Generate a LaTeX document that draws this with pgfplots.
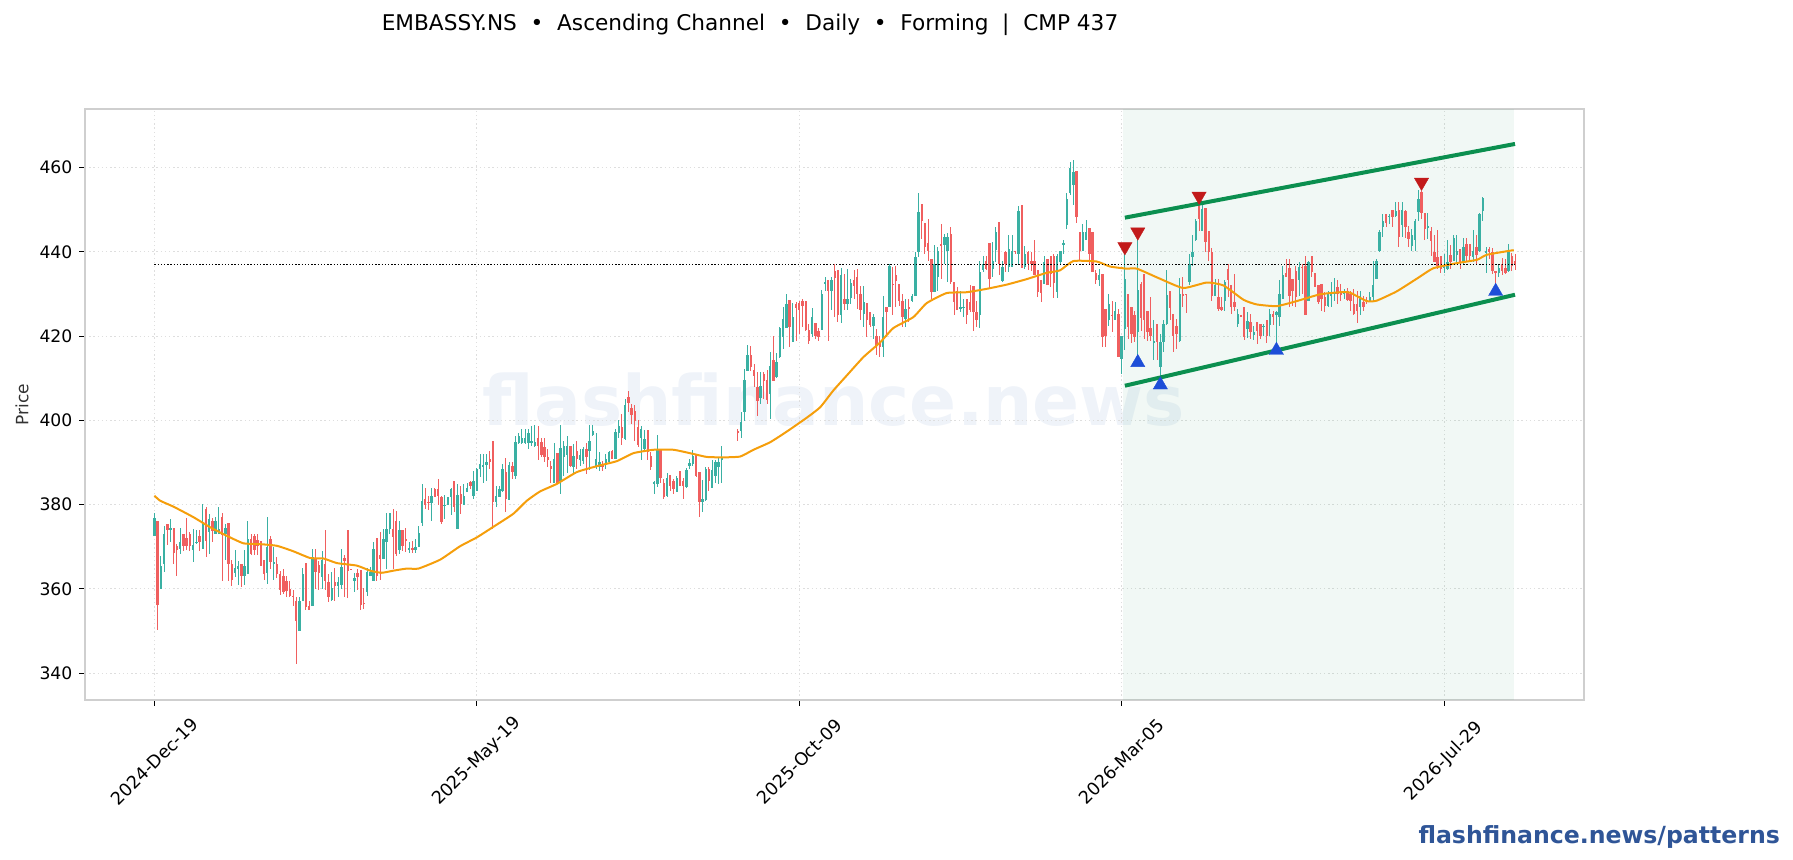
\documentclass[border=0pt]{standalone}
\usepackage{pgfplots}
\usepackage{pgfplotstable}
\usepackage{fontspec}
\setmainfont{DejaVu Sans}
\pgfplotsset{compat=1.18}
\definecolor{upc}{HTML}{3AB0A3}
\definecolor{dnc}{HTML}{F05F5F}
\definecolor{chan}{HTML}{0B8F4F}
\definecolor{ema}{HTML}{F59E0B}
\definecolor{frame}{HTML}{CFCFCF}
\definecolor{gridc}{HTML}{DEDEDE}
\definecolor{wm}{HTML}{EFF3F9}
\definecolor{brand}{HTML}{2F5597}
\definecolor{redm}{HTML}{C21A1A}
\definecolor{bluem}{HTML}{1D4ED8}
\pgfplotstableread{
x l bl bh h
0 372.5 372.5 376.8 378
2 360 360 365.4 367.8
3 364 366 373 374.8
5 371 374 374.4 376.5
8 368.3 369.5 371.2 374.5
12 366.3 369.1 370.5 374.2
13 370.6 370.8 371.2 374
15 369.5 369.5 375.8 380.1
17 368.3 373.4 376.6 377.8
19 372.9 372.9 376.2 377
20 373 373 374.2 379.4
22 366.8 373 374.4 375.4
25 362.7 363.8 364.9 369.1
26 361 364.7 365.5 366.7
28 361 363.1 365.5 369.1
29 363.4 363.4 371.8 376
35 361.1 363.7 369.9 377
37 362.2 366 366.4 369.9
45 350 350 357.2 358
46 357 357 363.4 364.9
49 356 356 367.5 369.5
52 360 362.7 366.8 368.9
55 357 357.4 360.2 363.9
57 358 360.7 361.5 362.7
58 360 361 365.1 369.5
62 359.2 361.9 362.6 363.7
66 358.4 359.2 363.9 364.9
67 363 363.1 363.9 365.1
68 361.9 361.9 369.5 371.1
71 367 367 371.8 374.2
72 364.7 371 374.2 378
73 373 374.3 378.1 378.1
76 368.3 369.3 374 376.2
79 368.4 369.1 369.8 371
81 368.4 369.1 370 371.8
82 369.9 369.9 373.3 374.9
83 374.9 375.7 380.9 384.9
86 376 380.3 382.1 384
90 376.6 379.6 380 382.3
91 379.8 379.8 381.9 381.9
92 377.4 381.9 383.7 384
94 374.1 374.1 382.3 384.9
96 380 380 382.1 384.9
97 382.9 382.9 384 385.1
99 381.3 382.1 385.5 387.9
100 383.2 383.2 388.5 388.7
101 386.5 388.5 389.7 392
102 385.1 388.8 389.4 392
103 385.7 389.3 390 392
106 379.4 380.5 382.1 384.3
107 381.7 381.9 383.7 384.5
108 382.9 383.3 388.5 389.7
110 381.1 381.1 389.3 390
112 386 386.8 394.9 396.3
113 394.3 394.7 396.3 396.9
114 394.3 394.7 395.9 397.9
115 394.3 394.7 395.9 397.9
116 393.3 394.7 397 397.9
117 393.9 394.7 395.1 398.7
118 393.6 393.9 394.9 398.9
124 385 385 390.8 394.7
126 382.5 385.6 393.5 398.9
127 386.8 391.2 393.8 395.1
128 387.6 391.8 393.9 396.3
130 387.6 389 391.6 394.3
132 389.2 390.5 391.8 393.2
133 389.6 390.4 393.2 393.6
135 388.2 392.6 395.1 398.9
136 396.3 396.5 397.5 398.9
137 388.4 389.2 390.8 397.1
138 388 389 390.1 392.4
140 388.4 389.6 390.8 392
141 389.6 390 392.4 392.8
143 390.8 390.8 397.3 397.9
144 395.9 397.1 398.7 400
146 395.4 395.5 403.7 405
151 390.5 395.9 397.9 398.7
152 392.6 393.2 395.5 397.7
155 382.5 385 385.3 385.6
156 384.2 384.8 393.2 396.5
159 381.8 382.1 386.4 387.6
162 382.9 382.9 386.4 386.8
165 384 384.2 388.2 388.6
166 388.4 389.2 389.8 390.8
167 389.2 389.6 391.6 393
170 378.3 380.6 381.3 385.8
171 380.9 381 388.4 388.8
173 383.9 384 388.2 390.5
174 385 386.8 390 390.5
175 384.8 388.8 390.1 391.2
176 385.2 390.8 391 393.8
182 395.9 397.4 399.5 401.9
183 399.9 401.9 409.6 412.2
184 411.6 411.6 415.5 417.9
188 403.8 405.4 408.2 411.4
191 400.3 406.2 413 416.1
193 410 410.3 413.9 415.9
194 414.8 415 421.9 422.1
195 417 419.7 424.1 426.8
196 421.9 421.9 427.5 430
198 418.5 418.5 424.6 427.8
204 419.7 420.5 424.5 426.6
207 421.5 421.5 429.9 431
208 430.8 432.4 432.8 434
210 426.1 430.8 433.3 434
213 423.1 425.1 434.6 436.2
215 426.1 427.5 428.8 436
216 427.6 429 432.5 433.6
220 422.1 425.3 428 431.8
223 419.3 422.5 424.5 425.3
226 415.1 417.3 424.5 429.4
228 426.8 427 436.7 437
233 422.1 424.1 426.5 428.8
235 428 428.3 429.6 430
236 429.5 429.6 438.7 439.9
237 438.7 439.9 449.4 453.9
242 430.4 430.4 437.1 441.7
243 430.8 434 440.1 441.1
245 437.1 441.5 443.6 444.3
246 432.8 440.3 443.6 444.4
250 425.7 426.5 426.9 430.8
251 424.5 426.8 427 428.8
256 421.9 424.9 435.2 437.9
257 435.2 435.6 437.1 439.1
260 434 436 437.9 442.3
261 437.5 440.5 444.7 445.9
263 432.9 433 436.5 437.9
265 435.2 436.4 440.7 444
266 436.4 436.4 440.3 444
268 437.1 439.5 449.7 450.8
270 436 436.4 439.4 441.3
276 432.4 432.4 437.5 439
280 429.1 430.4 439.1 439.5
281 437.1 437.5 440.1 440.3
282 439.5 441.6 442 442.8
283 445.5 446.3 452.6 453.9
284 453.4 453.9 459.9 461.3
285 451 455.8 458.9 461.9
288 440.3 440.3 444.8 446.6
289 442.7 442.7 444.8 447.6
293 431.8 433.2 434.5 436
296 422.5 423.7 427.6 430
298 423.7 423.7 425.9 428
300 411 414.6 419.9 419.9
301 416.6 421.6 433.6 439.9
305 415 420.9 431 443.1
310 414.2 418.3 418.9 423.8
312 410.2 412.6 418.5 420.5
313 416.1 418.5 422.9 423.8
314 422.6 422.9 429.8 435.7
318 418.7 418.8 430 433.8
321 432 432.8 437.1 439.5
322 436.7 438.7 439.9 444
323 442.5 442.7 447.3 447.8
325 445 445 450.2 451.4
329 429.5 429.6 432.1 433.6
332 426 428.3 432.9 433.2
336 422.1 422.9 425.3 426.4
339 419.6 421.7 423.5 425.7
341 419.1 420.3 420.9 422.5
344 420.1 422.1 422.5 422.9
346 420.1 422.7 425.3 426.4
348 416.5 424.9 425.7 426
349 422.5 424.6 430 433.2
350 428.8 428.8 434.4 436.7
355 429.6 433.2 436.5 437.5
358 428.4 428.4 437.5 437.9
364 427 427.2 430 430.8
365 426.8 429.6 430.2 432.8
366 428.4 430 430.4 433.8
369 428.8 430 430.4 431.2
374 424.9 426.8 429.6 430.8
377 428 428.4 429.2 430.4
378 428.4 429.2 432.1 437.9
379 433.6 433.6 437.9 438.3
380 439.9 440.1 444.7 445.1
381 443.6 446 447.4 449
383 446.5 448.2 448.6 449
385 448.2 448.6 449.8 451.8
387 443.5 446.4 450 451.8
390 440.1 441.3 443.9 445.4
391 440.3 442.7 447.3 447.8
392 447.4 449.4 452.6 454.6
395 443.1 445.8 446.2 449.2
400 434.9 436.2 436.7 439.5
401 435.7 435.9 437.5 442.8
403 437.7 437.9 443.2 443.9
404 437.1 439.3 440.3 444
406 437.1 437.5 441.1 443.2
409 437.5 438.7 440.1 445.2
411 439.9 440.1 449 449.2
412 447.3 449.8 452.7 453.1
413 434.9 439.8 440.3 441.1
417 434 434.9 436.1 437.1
420 435.1 435.5 439.9 441.9
}\upT
\pgfplotstableread{
x l bl bh h
1 350.2 356.2 376.1 376.1
4 370.5 373.9 375.4 375.4
6 366 368.5 374.4 374.4
7 363 369.3 370.1 370.7
9 369 370.2 373 373
10 369.3 370.2 372.1 376.8
11 368.9 370.2 372.9 373.5
14 368.9 371.2 372.6 374
16 367.5 371.4 379 379.3
18 371 373.8 376.2 376.8
21 361.9 372.8 377 377.9
23 361.9 365.9 375.7 375.7
24 360.7 362.1 366 366.8
27 360.5 363.1 365.9 365.9
30 368.1 368.3 371.8 373
31 368.1 369.1 372.6 373
32 368.1 370.2 371.6 372.9
33 365.3 365.3 371.4 371.4
34 362.1 363.4 366.9 366.9
36 364.7 366.3 371.8 372.6
38 362.5 363.5 365.9 367.5
39 358.6 359.8 363.5 364.3
40 358.8 359.2 363.1 364.7
41 358 359.4 361.9 363.1
42 358 358.4 359.9 361.9
43 355.8 358 358.4 359.6
44 342.1 352.4 357.2 358
47 355 355.6 366.1 366.1
48 355 355 355.8 357.2
50 360 364.1 367.1 369.5
51 359.8 363.7 365.7 366.7
53 359.7 361.9 365.9 374
54 356.8 358.1 361.7 363.5
56 357.2 360.7 361.5 364.9
59 358 366.7 367.2 368.1
60 357.8 364.3 374 374
61 364.6 364.6 364.7 364.7
63 359.6 362.9 363.8 364.7
64 355 356.1 364.5 364.5
65 355.2 356.4 356.7 360.3
69 361.9 363.1 372 372
70 362.1 367.1 368.1 373.4
74 364.7 372.2 374.2 379
75 367.9 368.3 376.2 378.4
77 369 370.1 374 374
78 368.7 371.4 371.8 374.4
80 368.4 369.2 369.8 371.4
84 379 380 381.2 384
85 378.7 380.3 380.7 382.1
87 381.7 381.9 383.8 384
88 379.8 382.1 383.7 386.1
89 375.4 375.8 381.9 382.1
93 378.2 379.5 385.5 385.5
95 377.8 380.1 382.5 384.5
98 383.7 384.3 385.4 385.7
104 388.5 390.2 390.8 392.7
105 374.2 380.5 395.2 395.2
109 378.2 381.2 387.8 391.1
111 386 387.8 389.2 390
119 390.5 393.8 395.8 398.7
120 391.2 391.8 394.9 395.9
121 390.2 391.4 393.7 395.8
122 389 390.5 391.2 393.2
123 385 388.4 389.2 390.4
125 385 385.2 392.2 392.2
129 389 389.2 393.9 393.9
131 388.4 390.8 392.8 395.1
134 387.2 391.3 393.2 394.7
139 388 389 389.6 390.4
142 390.8 390.8 392.8 393
145 394.1 395.9 398.3 401.5
147 401.9 404 405.6 407
148 399.1 401.3 402.9 403.8
149 395.1 399.9 402.3 403.7
150 393.6 394.1 398.5 400
153 390.5 392.4 397.7 397.7
154 388.2 389 391.6 392.4
157 385.2 386.2 393 393
158 381.3 381.7 385.2 386
160 383.3 384.4 387 387
161 382.6 383.7 385.6 386
163 384.3 384.4 388 388
164 381.3 384.4 385.6 386.4
168 386.6 386.7 392 392
169 377.1 380.6 387.8 387.8
172 383.3 385.6 388.4 389
181 395.1 397.1 397.5 397.9
185 411.6 412.6 415.5 417.7
186 408 410.6 412 413.4
187 400.9 404.6 408 411.5
189 405 409.4 411 411.5
190 403.8 404.9 409.6 411.9
192 409.4 409.4 414.3 420.1
197 417.3 422.1 428.6 428.6
199 418.9 426.7 427.6 428
200 420.5 426.1 427.8 428.4
201 422.1 427.2 428.4 428.8
202 421.1 421.5 428.4 428.4
203 418.1 418.9 421.5 422.9
205 419.3 420.1 423 423
206 418.9 419.7 421.3 421.9
209 418.9 430.8 433.3 433.3
211 424.5 433.8 435.4 437
212 423.4 425.1 435.6 435.6
214 426.1 427.6 428.8 434.8
217 428.8 431.8 433.2 435.6
218 426.4 430 434 436
219 423.7 426.1 430 431.8
221 419.7 423.8 427.8 427.8
222 422.1 422.7 425.7 425.7
224 415.4 417.7 420.1 421.7
225 415 417.3 418.5 419.9
227 419.7 425.7 427 427
229 424.9 432.2 432.4 436.4
230 426.8 433 434.4 436.6
231 427.2 428.4 432.4 432.4
232 422.1 424.5 428.4 430
234 423.3 426.5 426.9 428.8
238 443.1 447.4 451.4 451.4
239 439.5 441.1 446.8 446.8
240 437.9 440.2 442.1 447.8
241 428.7 430.4 438.3 438.3
244 433.6 441.5 441.9 446.6
247 432.4 432.8 444.3 446
248 425 428 432.9 432.9
249 426.1 426.1 430.6 431.6
252 422.9 424.9 428.7 428.7
253 425.7 426.1 428 432
254 421.3 425.7 431.8 431.8
255 422.1 423.7 425.7 428.4
258 435.6 436 437.9 439
259 431.4 433.6 442.1 442.1
262 434.4 437.1 447 447
264 435.2 437.1 439.9 440.2
267 439.4 440.2 440.3 440.3
269 436.1 436.2 451 451
271 435.6 437.1 439.9 440.3
272 435.4 437.1 437.9 439.9
273 434.6 434.6 437.9 442.8
274 429.2 430.4 435.6 435.6
275 428 430.2 433.3 433.3
277 432 432 438.3 438.3
278 431.6 434.8 438.9 439.1
279 429.1 432.6 439.1 439.4
286 446.8 448.2 459.1 459.1
287 438.1 440.2 444.8 444.8
290 437.1 439.5 445.7 445.7
291 435.2 435.2 444.7 444.7
292 432.4 433.2 435 435.6
294 417.3 419.7 434.8 434.8
295 417.3 420 426.5 426.5
297 420.9 425 425.1 428.4
299 415 415 425.3 426.5
302 419.3 422.1 430 430
303 418.3 420.5 427 427
304 418.5 419.7 424.9 426
306 421.3 424.2 432.4 432.8
307 419.3 423.7 434.8 434.8
308 418.9 420.9 426 426
309 418.9 419.9 422 429.2
311 414.2 418.5 422.9 422.9
315 423.7 426.6 430.6 430.6
316 416.3 420.1 425.3 425.3
317 416.9 420.5 422.5 424.1
319 426.8 429.6 430 434
320 425.5 429.9 430 430
324 445 447.7 451.4 452.2
326 439.9 442.3 450.4 450.4
327 437.9 439.9 445 445
328 428.4 429.6 439.9 440.9
330 425.9 426.4 429.2 433.6
331 425.9 426.2 426.8 429.2
333 429.2 433.2 435.8 437
334 425.2 426.8 432 432
335 426 426.8 428 434.8
337 424.7 424.8 424.9 424.9
338 419.1 419.7 427 427
340 419.3 420.9 423.3 425.3
342 418.1 421.3 423.4 423.4
343 419.3 420.1 422.9 422.9
345 418.3 420.1 423.7 423.7
347 422.7 424.5 425.3 426
351 434 434.1 434.9 438.3
352 426.8 429.6 436.2 438.3
353 427.2 430.8 433.6 433.6
354 426.8 429.2 435.5 436.7
356 430 436.2 436.5 437.1
357 424.9 425 436.7 439.1
359 434 435.2 438.9 438.9
360 431.7 431.7 435 435
361 427.6 428 432 432
362 426 428.8 432.4 432.4
363 425.8 427.2 429.2 430.4
367 427.6 430 431.6 433.2
368 428.4 429.8 430.6 432.4
370 428.4 428.6 430.6 431.4
371 426 428.4 430 430.8
372 424.9 425.2 427.6 431.2
373 423 426 427.5 430.8
375 426 427 428 429.6
376 427.6 428.3 428.6 429.2
382 445.8 446.8 448.9 449
384 445.8 448.2 450 450
386 441.1 443.5 450 451.8
388 443.3 445.8 449.8 450
389 441.2 443.1 444.7 446.2
393 447.8 449.2 454.1 454.5
394 442.8 445.3 449.2 449.2
396 439.1 442.5 445 445.8
397 437.5 437.5 439.9 444
398 435.9 436.7 438.7 445.2
399 434.9 435.9 439.1 439.1
402 435.9 437.5 439.3 441.6
405 435.9 437.5 440.7 440.7
407 437.5 439.1 441.9 443.3
408 437.5 439.1 441.9 441.9
410 437.1 439.3 441.1 443.9
414 438.3 439.9 440.7 441.2
415 434.7 435.5 439.9 440.9
416 432 435.1 435.5 435.5
418 434.6 435.4 437.1 438.5
419 434.7 434.9 436.1 438.3
421 435.5 436.7 438.9 439.7
422 435.7 437 437.9 439.5
}\dnT
\begin{document}
\begin{tikzpicture}
\path[use as bounding box] (-42.5pt,-80pt) rectangle (854pt,350pt);
\node[font=\bfseries\fontsize{34.7}{40}\selectfont,text=wm,anchor=center] at (374.5pt,150.3pt) {flashfinance.news};
\begin{axis}[
 at={(0pt,0pt)},anchor=south west,scale only axis,
 width=749.5pt,height=295.5pt,
 xmin=-21.53,xmax=443.4,ymin=333.6,ymax=473.9,
 xtick={0,100,200,300,400},
 xticklabels={2024-Dec-19,2025-May-19,2025-Oct-09,2026-Mar-05,2026-Jul-29},
 ytick={340,360,380,400,420,440,460},
 /pgf/number format/assume math mode=true,
 tick label style={font=\fontsize{8.6}{10}\selectfont,text=black},
 xticklabel style={font=\fontsize{8.8}{10}\selectfont,anchor=center,yshift=-28pt,rotate=45},
 tick align=outside,xtick pos=bottom,ytick pos=left,
 major tick length=2.8pt,
 tick style={black,line width=0.4pt},
 axis line style={frame,line width=0.8pt},
 grid=major,
 grid style={gridc,line width=0.5pt,dash pattern=on 0.7pt off 1.4pt},
 ylabel={Price},
 every axis y label/.style={at={(axis description cs:0,0.5)},anchor=center,xshift=-31.5pt,rotate=90,font=\fontsize{8.5}{10}\selectfont,text=black!80},
 error bars/error mark=none,
]
\addplot[draw=none,fill=chan,fill opacity=0.06,forget plot] coordinates {(300.4,333.6)(421.8,333.6)(421.8,473.9)(300.4,473.9)} -- cycle;
% wicks
\addplot[draw=none,mark=none,forget plot,error bars/.cd,y dir=both,y explicit,error bar style={upc,line width=0.5pt}] table[x=x,y expr=(\thisrow{h}+\thisrow{l})/2,y error expr=(\thisrow{h}-\thisrow{l})/2] {\upT};
\addplot[draw=none,mark=none,forget plot,error bars/.cd,y dir=both,y explicit,error bar style={dnc,line width=0.5pt}] table[x=x,y expr=(\thisrow{h}+\thisrow{l})/2,y error expr=(\thisrow{h}-\thisrow{l})/2] {\dnT};
% bodies
\addplot[draw=none,mark=none,forget plot,error bars/.cd,y dir=both,y explicit,error bar style={upc,line width=1.2pt}] table[x=x,y expr=(\thisrow{bh}+\thisrow{bl})/2,y error expr=(\thisrow{bh}-\thisrow{bl})/2] {\upT};
\addplot[draw=none,mark=none,forget plot,error bars/.cd,y dir=both,y explicit,error bar style={dnc,line width=1.2pt}] table[x=x,y expr=(\thisrow{bh}+\thisrow{bl})/2,y error expr=(\thisrow{bh}-\thisrow{bl})/2] {\dnT};
% moving average
\addplot[ema,line width=1pt,mark=none,smooth,tension=0.3] coordinates {
(0,382.1)(1.8,380.9)(5.9,379.5)(12.1,377)(17.3,374.6)(22.4,372.6)(27.6,370.8)(32.8,370.6)(38,370.2)(43.1,368.9)(48.3,367.3)(52.4,367.2)(56.6,366.1)(62.8,365.5)(66.9,364.3)(70.5,363.8)(74.1,364.3)(78.3,364.8)(81.9,364.8)(88.6,366.9)(94.8,370.1)(100,372.2)(105.1,374.7)(111.3,377.8)(115.5,380.9)(119.6,383.1)(124.8,384.9)(131,387.7)(137.2,389.1)(143.4,390.3)(148.6,392.2)(154.8,393)(161,393)(167.2,392)(171.3,391.3)(176.5,391.2)(181.7,391.4)(185.8,393)(191,394.8)(196.1,397.3)(202.3,400.6)(206.5,403.1)(210.6,407.1)(214.7,410.6)(219.9,415)(225.1,418.5)(229.2,421.9)(235.4,424.5)(239.5,427.8)(245.7,430.2)(251.9,430.4)(258.1,431.2)(264.3,432.2)(270.5,433.5)(276.7,435)(280.9,435.6)(285,437.8)(292.2,437.7)(296.4,436.5)(301.5,436)(304.7,436)(311.9,433.6)(319.1,431.4)(326.4,432.7)(331.6,432)(337.8,428.6)(341.9,427.5)(348.1,427.1)(354.3,428.3)(361.5,429.9)(367.7,430.4)(370.8,430.3)(376,428.3)(379.1,428.4)(385.3,430.6)(391.5,433.6)(396.7,436.1)(403.9,437.3)(410.2,438.1)(413.3,439.3)(421.6,440.4)};
% reference level
\addplot[black,line width=0.5pt,dash pattern=on 0.7pt off 0.9pt] coordinates {(0,437)(422,437)};
% pivots
\addplot[only marks,mark=triangle*,mark size=4.1pt,mark options={rotate=180,fill=redm,draw=redm,line width=0.2pt}] coordinates {(301,441.2)(305,444.7)(324,453.2)(393,456.5)};
\addplot[only marks,mark=triangle*,mark size=4.1pt,mark options={fill=bluem,draw=bluem,line width=0.2pt}] coordinates {(305,413.7)(312,408.4)(348,416.6)(416,430.6)};
% channel
\addplot[chan,line width=2pt] coordinates {(301,448.1)(422,465.6)};
\addplot[chan,line width=2pt] coordinates {(301,408.2)(422,429.8)};
\end{axis}
\node[font=\fontsize{10.82}{13}\selectfont,text=black,anchor=center] at (332.5pt,337.5pt) {EMBASSY.NS\ \ •\ \ Ascending Channel\ \ •\ \ Daily\ \ •\ \ Forming\ \ |\ \ CMP 437};
\node[font=\bfseries\fontsize{11.8}{14}\selectfont,text=brand,anchor=east] at (851pt,-68.5pt) {flashfinance.news/patterns};
\end{tikzpicture}
\end{document}
